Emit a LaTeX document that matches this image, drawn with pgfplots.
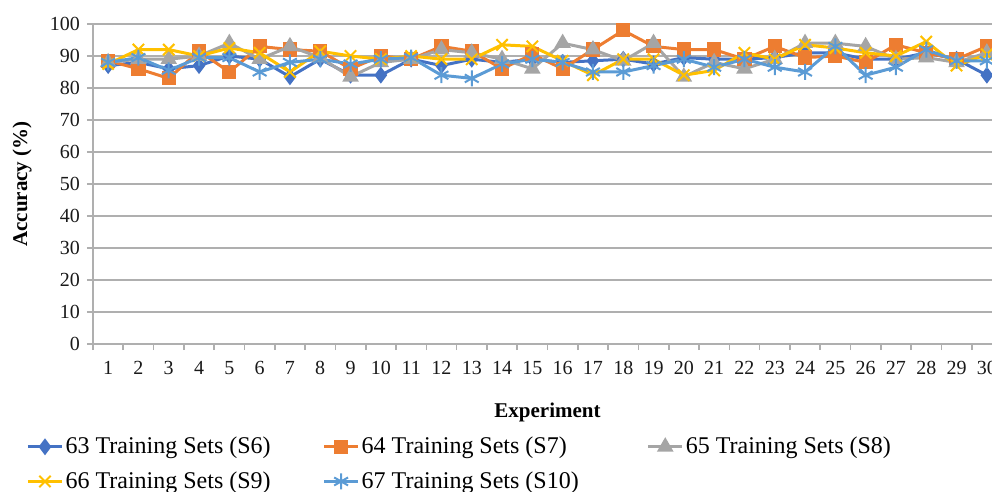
\documentclass[border=0pt]{standalone}
\usepackage{pgfplots}
\pgfplotsset{compat=1.18}
\usepackage{fontspec}
\setmainfont{Liberation Serif}

\definecolor{sA}{HTML}{4472C4}
\definecolor{sB}{HTML}{ED7D31}
\definecolor{sC}{HTML}{A5A5A5}
\definecolor{sD}{HTML}{FFC000}
\definecolor{sE}{HTML}{5B9BD5}
\definecolor{gridgray}{RGB}{175,175,175}

\begin{document}
\begin{tikzpicture}
\begin{axis}[
  scale only axis,
  width=454.5pt, height=160pt,
  xmin=0.5, xmax=30.5,
  ymin=0, ymax=100,
  axis lines*=left,
  axis line style={gridgray, line width=0.8pt},
  xtick={1,...,30},
  minor xtick={0.5,1.5,...,30.5},
  ytick={0,10,...,100},
  ymajorgrids,
  major grid style={gridgray, line width=0.8pt},
  tick align=outside,
  major x tick style={draw=none},
  minor x tick style={gridgray, line width=0.8pt},
  ytick style={gridgray, line width=0.8pt},
  major tick length=3pt, minor tick length=3pt,
  tick label style={font=\fontsize{10}{12}\selectfont, text=black!90},
  /pgf/number format/assume math mode=true,
  xticklabel style={yshift=-2pt},
  xlabel={\textbf{Experiment}},
  ylabel={\textbf{Accuracy (\%)}},
  label style={font=\fontsize{10.5}{12}\selectfont},
  xlabel style={at={(axis description cs:0.5,-0.2125)}, anchor=center},
  ylabel style={at={(axis description cs:-0.0781,0.5)}, anchor=center},
  legend columns=3,
  legend style={draw=none, fill=none, inner sep=0pt,
    at={(axis description cs:-0.0737,-0.283)}, anchor=north west,
    row sep=5.5pt, nodes={inner sep=1pt},
    font=\fontsize{12}{14}\selectfont},
  every axis plot/.append style={line width=1.5pt},
]
% 63 Training Sets (S6)
\addplot[sA, mark=diamond*, mark size=3pt, mark options={solid, fill=sA}] coordinates {
(1,87) (2,88) (3,86) (4,87) (5,90) (6,89) (7,83.5) (8,89) (9,84) (10,84)
(11,89) (12,87) (13,89) (14,88) (15,89) (16,88) (17,88.5) (18,89) (19,87.5) (20,89.5)
(21,89) (22,89) (23,89.5) (24,91) (25,91) (26,89) (27,89) (28,91) (29,89) (30,84)};
\addlegendentry{\makebox[127.5pt][l]{63 Training Sets (S6)}}
% 64 Training Sets (S7)
\addplot[sB, mark=square*, mark size=2.8pt, mark options={solid, fill=sB}] coordinates {
(1,88.5) (2,86) (3,83) (4,91.5) (5,85) (6,93) (7,92) (8,91.5) (9,86) (10,90)
(11,89) (12,93) (13,91.5) (14,86) (15,90.5) (16,86) (17,92) (18,98) (19,93) (20,92)
(21,92) (22,89) (23,93) (24,89.5) (25,90) (26,88) (27,93.5) (28,91) (29,89) (30,93)};
\addlegendentry{\makebox[141.5pt][l]{64 Training Sets (S7)}}
% 65 Training Sets (S8)
\addplot[sC, mark=triangle*, mark size=3.3pt, mark options={solid, fill=sC}] coordinates {
(1,88) (2,89) (3,89) (4,90) (5,94) (6,89) (7,93) (8,89.5) (9,83.5) (10,88)
(11,89) (12,92) (13,91) (14,89) (15,86) (16,94) (17,92) (18,88.5) (19,94) (20,83.5)
(21,88) (22,86) (23,89) (24,94) (25,94) (26,93) (27,89) (28,89.5) (29,88) (30,91)};
\addlegendentry{65 Training Sets (S8)}
% 66 Training Sets (S9)
\addplot[sD, mark=x, mark size=4pt, mark options={solid, line width=1pt}] coordinates {
(1,87.5) (2,92) (3,92) (4,90) (5,92.5) (6,91) (7,85) (8,91.5) (9,90) (10,89)
(11,90) (12,89) (13,89) (14,93.5) (15,93) (16,88.5) (17,84) (18,89) (19,89) (20,84)
(21,85.5) (22,91) (23,89) (24,93.5) (25,92.5) (26,91) (27,90) (28,94.5) (29,87) (30,90.5)};
\addlegendentry{\makebox[127.5pt][l]{66 Training Sets (S9)}}
% 67 Training Sets (S10)
\addplot[sE, mark=asterisk, mark size=4pt, mark options={solid, line width=1pt}] coordinates {
(1,88) (2,89.5) (3,85.5) (4,89.5) (5,89.5) (6,85) (7,88) (8,89) (9,87.5) (10,89)
(11,89.5) (12,84) (13,83) (14,87.5) (15,89) (16,88) (17,85) (18,85) (19,87) (20,89)
(21,86.5) (22,89) (23,86.5) (24,85) (25,93) (26,84) (27,86.5) (28,92) (29,88.5) (30,88.5)};
\addlegendentry{\makebox[141.5pt][l]{67 Training Sets (S10)}}
\end{axis}
% page frame: the plot runs on past the right-hand edge
\pgfresetboundingbox
\path[use as bounding box] ([xshift=-46.5pt,yshift=12pt]current axis.north west)
  rectangle ([xshift=449.5pt,yshift=-74pt]current axis.south west);
\end{tikzpicture}
\end{document}
